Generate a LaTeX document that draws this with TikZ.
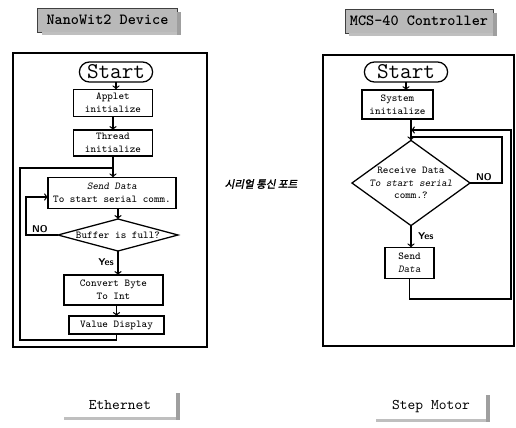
\documentclass[tikz,border=0pt]{standalone}
\usepackage{fontspec}
\newfontfamily\krfont[FakeSlant=0.2,FakeBold=2]{Noto Sans CJK KR}
\usetikzlibrary{shapes.geometric}
\newcommand{\flowfont}{\ttfamily\fontsize{7.5}{9}\selectfont}

\begin{document}
\begin{tikzpicture}[x=0.025cm,y=-0.025cm,inner sep=0pt,outer sep=0pt,line width=0.9pt,
flowbox/.style={draw,rectangle,inner sep=1pt,align=center,font=\flowfont},
startnode/.style={draw,rectangle,rounded corners=0.25cm,minimum height=0.5cm,font=\ttfamily\fontsize{16}{16}\selectfont},
decision/.style={draw,diamond},
dectext/.style={align=center,font=\flowfont},
titlebox/.style={fill=gray!55,draw=gray!50!black,line width=0.6pt,minimum height=0.6cm,font=\ttfamily\bfseries\fontsize{11}{11}\selectfont},
tagbox/.style={minimum height=0.62cm,font=\ttfamily\fontsize{10.5}{10.5}\selectfont},
darkshade/.style={fill=gray!75},
lightshade/.style={fill=gray!50},
frame/.style={line width=1.2pt},
answer/.style={font=\sffamily\bfseries\fontsize{7}{7}\selectfont}]

\useasboundingbox (0,0) rectangle (516,428);

% NanoWit2 side
\draw (107.5,20) node[titlebox,minimum width=3.48cm] (titleL) {NanoWit2 Device};
\fill[darkshade] ([shift={(0,4)}]titleL.north east) rectangle ([shift={(4,3)}]titleL.south east);
\fill[lightshade] ([shift={(4,0)}]titleL.south west) rectangle ([shift={(0,3)}]titleL.south east);
\draw[frame] (13,53) rectangle (207,347);

\draw (116,72) node[startnode,minimum width=1.83cm] (startL) {Start};
\draw (113,103) node[flowbox,minimum width=1.98cm,minimum height=0.68cm] (applet) {Applet\\initialize};
\draw (113,143) node[flowbox,minimum width=1.98cm,minimum height=0.65cm] (thread) {Thread\\initialize};
\draw (112,193) node[flowbox,minimum width=3.2cm,minimum height=0.78cm] (senddata) {\textsl{Send Data}\\To start serial comm.};
\draw (118,235) node[decision,minimum width=3cm,minimum height=0.8cm,label={[dectext]center:{Buffer is full?}}] (bufull) {};
\draw (113.5,290) node[flowbox,minimum width=2.48cm,minimum height=0.75cm] (convert) {Convert Byte\\To Int};
\draw (116.5,325) node[flowbox,minimum width=2.38cm,minimum height=0.45cm] (valdisp) {Value Display};

\draw[->] (startL.south) -- (startL.south |- applet.north);
\draw[->] (applet.south) -- (applet.south |- thread.north);
\draw[->] (thread.south) -- (thread.south |- senddata.north);
\draw[->] (senddata.south -| bufull.north) -- (bufull.north);
\draw[->] (bufull.south) -- (bufull.south |- convert.north) node[answer,pos=.45,left=3pt] {Yes};
\draw[->] (convert.south -| valdisp.north) -- (valdisp.north);

\coordinate (loopBL) at (20,340);
\coordinate (loopTL) at (20,168);
\draw (valdisp.south) |- (loopBL) -- (loopTL) -- (loopTL -| thread.south);
\coordinate (noL) at (26,197);
\draw[->] (bufull.west) -| (noL) -- (noL -| senddata.west);
\draw (40,229) node[answer] (noLbl) {NO};

% serial port
\draw (261,184) node[font=\krfont\fontsize{7.5}{7.5}\selectfont] (serport) {시리얼 통신 포트};

% MCS-40 side
\draw (419,21) node[titlebox,minimum width=3.7cm] (titleR) {MCS-40 Controller};
\fill[darkshade] ([shift={(0,4)}]titleR.north east) rectangle ([shift={(4,3)}]titleR.south east);
\fill[lightshade] ([shift={(4,0)}]titleR.south west) rectangle ([shift={(0,3)}]titleR.south east);
\draw[frame] (323,55) rectangle (514,346);

\draw (406,72) node[startnode,minimum width=2.08cm] (startR) {Start};
\draw (397.5,104.5) node[flowbox,minimum width=1.78cm,minimum height=0.72cm] (sysinit) {System\\initialize};
\draw (411,183) node[decision,minimum width=2.95cm,minimum height=2.13cm,label={[dectext]center:{Receive Data\\\textsl{To start serial}\\comm.?}}] (recv) {};
\draw (409.5,263) node[flowbox,minimum width=1.23cm,minimum height=0.78cm] (senddat) {Send\\\textsl{Data}};

\draw[->] (startR.south) -- (startR.south |- sysinit.north);
\draw[->] (recv.north |- sysinit.south) -- (recv.north);
\draw[->] (recv.south) -- (recv.south |- senddat.north) node[answer,pos=.5,right=5pt] {Yes};
\coordinate (noR) at (502,137);
\draw (recv.east) -| (noR) -- (noR -| recv.north);
\draw (484,177) node[answer] (noRLbl) {NO};
\coordinate (loopBR) at (511,299);
\coordinate (loopTR) at (511,130);
\draw[->] (senddat.south) |- (loopBR) -- (loopTR) -- (loopTR -| recv.north);

% links
\draw (120,405) node[tagbox,minimum width=2.78cm] (ether) {Ethernet};
\fill[darkshade] (ether.north east) rectangle ([shift={(4,3)}]ether.south east);
\fill[lightshade] (ether.south west) rectangle ([shift={(0,3)}]ether.south east);
\draw (431,407) node[tagbox,minimum width=2.75cm] (motor) {Step Motor};
\fill[darkshade] (motor.north east) rectangle ([shift={(4,3)}]motor.south east);
\fill[lightshade] (motor.south west) rectangle ([shift={(0,3)}]motor.south east);
\end{tikzpicture}
\end{document}
